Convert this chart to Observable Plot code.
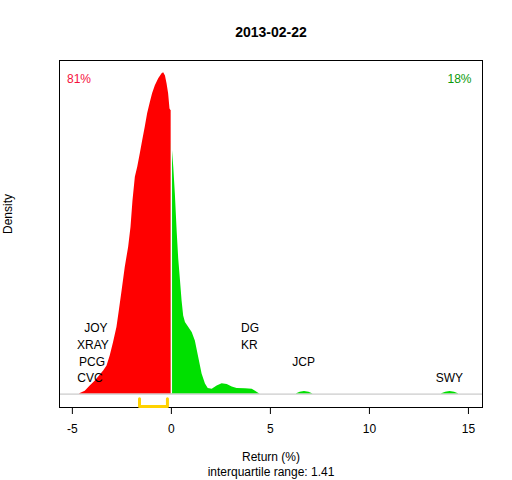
<!DOCTYPE html>
<html>
<head>
<meta charset="utf-8">
<script src="https://cdn.jsdelivr.net/npm/d3@7"></script>
<script src="https://cdn.jsdelivr.net/npm/@observablehq/plot@0.6"></script>
<style>
  html, body { margin: 0; padding: 0; background: white; }
  #chart svg { display: block; }
</style>
</head>
<body>
<div id="chart"></div>
<script>
// ---- data ----
const chartTitle = "2013-02-22";
const xTicks = [-5, 0, 5, 10, 15];

// density of negative returns (red)
const lossReturn  = [-4.65, -4.60, -4.35, -4.10, -3.84, -3.59, -3.42, -3.25, -3.09, -2.92, -2.75, -2.63, -2.49, -2.33, -2.16, -2.04, -1.94, -1.82, -1.70, -1.57, -1.45, -1.32, -1.20, -1.06, -0.95, -0.81, -0.64, -0.47, -0.39, -0.30, -0.22, -0.14, -0.07, 0.0];
const lossDensity = [0, 0.0005, 0.0030, 0.0081, 0.0132, 0.0193, 0.0234, 0.0284, 0.0386, 0.0524, 0.0676, 0.0843, 0.1046, 0.1285, 0.1488, 0.1691, 0.1959, 0.2199, 0.2301, 0.2437, 0.2569, 0.2707, 0.2843, 0.2960, 0.3046, 0.3127, 0.3198, 0.3249, 0.3259, 0.3228, 0.3147, 0.3046, 0.2893, 0.2870];

// density of positive returns (green)
const gainReturn  = [0.0, 0.035, 0.12, 0.20, 0.29, 0.37, 0.46, 0.54, 0.62, 0.71, 0.88, 1.05, 1.21, 1.38, 1.55, 1.72, 1.86, 2.06, 2.31, 2.56, 2.82, 3.07, 3.32, 3.74, 4.08, 4.25, 4.42, 4.48, 6.30, 6.50, 6.72, 6.95, 7.15, 13.62, 13.85, 14.07, 14.30, 14.52];
const gainDensity = [0.254, 0.2528, 0.230, 0.203, 0.1655, 0.137, 0.1147, 0.0944, 0.0792, 0.0727, 0.0676, 0.0625, 0.0538, 0.0372, 0.0203, 0.0102, 0.0057, 0.0048, 0.0081, 0.0105, 0.0098, 0.0071, 0.0058, 0.0054, 0.0048, 0.0030, 0.0005, 0, 0, 0.0018, 0.0027, 0.0018, 0, 0, 0.0018, 0.0027, 0.0018, 0];

// labelled extreme stocks
const stockNames   = ["JOY", "XRAY", "PCG", "CVC", "DG", "KR", "JCP", "SWY"];
const stockReturns = [-3.81, -3.96, -4.01, -4.11, 3.97, 3.94, 6.68, 14.04];
const stockRows    = [4, 3, 2, 1, 4, 3, 2, 1];

const lossShare = "81%";
const gainShare = "18%";
const quartiles = [-1.61, -0.20];
const iqrText = "interquartile range: 1.41";

// ---- build tables ----
const lossData = lossReturn.map((r, i) => ({r, d: lossDensity[i]}));
const gainData = gainReturn.map((r, i) => ({r, d: gainDensity[i]}));
const rowStep = 0.0169, rowBase = 0.0159;
const labels = stockNames.map((n, i) => ({n, r: stockReturns[i], y: rowBase + (stockRows[i] - 1) * rowStep}));
const bTop = -0.0048, bBot = -0.0126;
const bracket = [
  {x: quartiles[0], y: bTop}, {x: quartiles[0], y: bBot},
  {x: quartiles[1], y: bBot}, {x: quartiles[1], y: bTop}
];

const chart = Plot.plot({
  width: 512,
  height: 480,
  marginLeft: 59,
  marginRight: 30,
  marginTop: 60,
  marginBottom: 73,
  style: {fontFamily: "'Liberation Sans', Arial, sans-serif", fontSize: "12px", background: "white", color: "black"},
  x: {domain: [-5.65, 15.71], ticks: xTicks, tickSize: 7, tickPadding: 10, label: null, tickFormat: d => String(d)},
  y: {domain: [-0.0136, 0.3384], axis: null},
  marks: [
    Plot.areaY(lossData, {x: "r", y: "d", fill: "#ff0000"}),
    Plot.areaY(gainData, {x: "r", y: "d", fill: "#00e000"}),
    Plot.ruleX([0], {y1: 0, y2: lossDensity[lossDensity.length - 1], stroke: "white", strokeWidth: 1.3}),
    Plot.ruleY([0], {stroke: "#bebebe", strokeWidth: 1}),
    Plot.frame({stroke: "black"}),
    Plot.line(bracket, {x: "x", y: "y", stroke: "#ffd200", strokeWidth: 3}),
    Plot.text(labels, {x: "r", y: "y", text: "n", fill: "black", textAnchor: "middle"}),
    Plot.text([lossShare], {text: d => d, frameAnchor: "top-left", textAnchor: "start", lineAnchor: "middle", dx: 7.5, dy: 19, fill: "#f5103c"}),
    Plot.text([gainShare], {text: d => d, frameAnchor: "top-right", textAnchor: "end", lineAnchor: "middle", dx: -11, dy: 19, fill: "#0a9a0a"}),
    Plot.text([chartTitle], {text: d => d, frameAnchor: "top", lineAnchor: "middle", dy: -28, fontWeight: "bold", fontSize: 14}),
    Plot.text(["Density"], {text: d => d, frameAnchor: "left", lineAnchor: "middle", rotate: -90, dx: -51}),
    Plot.text(["Return (%)"], {text: d => d, frameAnchor: "bottom", lineAnchor: "middle", dy: 50}),
    Plot.text([iqrText], {text: d => d, frameAnchor: "bottom", lineAnchor: "middle", dy: 65})
  ]
});
document.getElementById("chart").appendChild(chart);
</script>
</body>
</html>
